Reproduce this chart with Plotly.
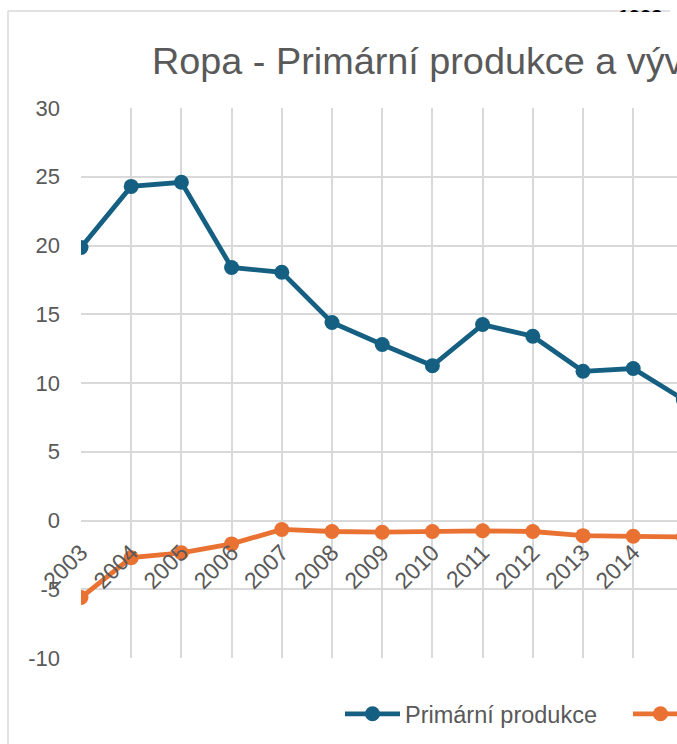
import plotly.graph_objects as go

years = [2003, 2004, 2005, 2006, 2007, 2008, 2009, 2010, 2011, 2012, 2013, 2014, 2015]
primarni_produkce = [19.85, 24.3, 24.6, 18.4, 18.05, 14.4, 12.8, 11.25, 14.25, 13.4, 10.85, 11.05, 8.8]
vyvoz = [-5.6, -2.7, -2.35, -1.7, -0.65, -0.8, -0.85, -0.8, -0.75, -0.8, -1.1, -1.15, -1.2]
series_names = ["Primární produkce", "Vývoz"]
title_text = "Ropa - Primární produkce a vývoz"
y_ticks = [-10, -5, 0, 5, 10, 15, 20, 25, 30]
y_tick_labels = ["-10", "-5", "0", "5", "10", "15", "20", "25", "30"]

W, H = 677, 744
L, R, T, B = 81, 0, 108, 86
pw = W - L - R
ph = H - T - B
spacing = 50.2

def px_x(p):
    return (p - L) / pw

def px_y(p):
    return (H - B - p) / ph

font = "Liberation Sans, Arial, sans-serif"
grey = "#595959"
grid = "#d9d9d9"

fig = go.Figure()
fig.add_trace(go.Scatter(
    x=years, y=primarni_produkce, name=series_names[0], mode="lines+markers",
    line=dict(color="#156082", width=4.8), marker=dict(size=15, color="#156082"),
    cliponaxis=True))
fig.add_trace(go.Scatter(
    x=years, y=vyvoz, name=series_names[1], mode="lines+markers",
    line=dict(color="#E97132", width=4.8), marker=dict(size=15, color="#E97132"),
    cliponaxis=True))

fig.update_layout(
    width=W, height=H,
    margin=dict(l=L, r=R, t=T, b=B, pad=0, autoexpand=False),
    paper_bgcolor="white", plot_bgcolor="white",
    font=dict(family=font, color=grey, size=22),
    showlegend=True,
    legend=dict(orientation="h", x=px_x(340), xanchor="left", y=px_y(714), yanchor="middle",
                font=dict(size=23.5, color=grey), itemwidth=55, entrywidth=218,
                bgcolor="rgba(0,0,0,0)"),
    xaxis=dict(
        range=[years[0], years[0] + pw / spacing],
        tickmode="array", tickvals=years, ticktext=[str(y) for y in years],
        tickangle=-45, showgrid=True, gridcolor=grid, gridwidth=1.5,
        zeroline=False, showline=False, ticks="", automargin=False,
        anchor="free", position=10 / 40, ticklabelstandoff=13,
        tickfont=dict(size=23, color=grey),
    ),
    yaxis=dict(
        range=[-10, 30], tickmode="array", tickvals=y_ticks, ticktext=y_tick_labels,
        showgrid=True, gridcolor=grid, gridwidth=1.5,
        zeroline=True, zerolinecolor=grid, zerolinewidth=1.5,
        showline=False, ticks="", ticklabelstandoff=20, automargin=False,
        tickfont=dict(size=22, color=grey),
    ),
)

# chart area border (partially visible)
fig.add_shape(type="line", xref="paper", yref="paper",
              x0=px_x(8), x1=px_x(670), y0=px_y(11), y1=px_y(11),
              line=dict(color=grid, width=1.5))
fig.add_shape(type="line", xref="paper", yref="paper",
              x0=px_x(8), x1=px_x(8), y0=px_y(11), y1=px_y(760),
              line=dict(color=grid, width=1.5))

fig.add_annotation(text=title_text, xref="paper", yref="paper",
                   x=px_x(150), y=px_y(61), xanchor="left", yanchor="middle",
                   showarrow=False, font=dict(size=37.8, color=grey, family=font))
# partially hidden label above the chart area
fig.add_annotation(text="<b>1993</b>", xref="paper", yref="paper",
                   x=px_x(640), y=px_y(4), xanchor="center", yanchor="top",
                   showarrow=False, font=dict(size=20, color="#000000", family=font))
fig.add_annotation(text=" ", xref="paper", yref="paper",
                   x=px_x(640), y=px_y(11.8), xanchor="center", yanchor="top",
                   width=80, height=30, bgcolor="white", borderpad=0, borderwidth=0,
                   showarrow=False)

fig.write_html("out.html", config={"displayModeBar": False},
               post_script="document.body.style.margin='0';")
